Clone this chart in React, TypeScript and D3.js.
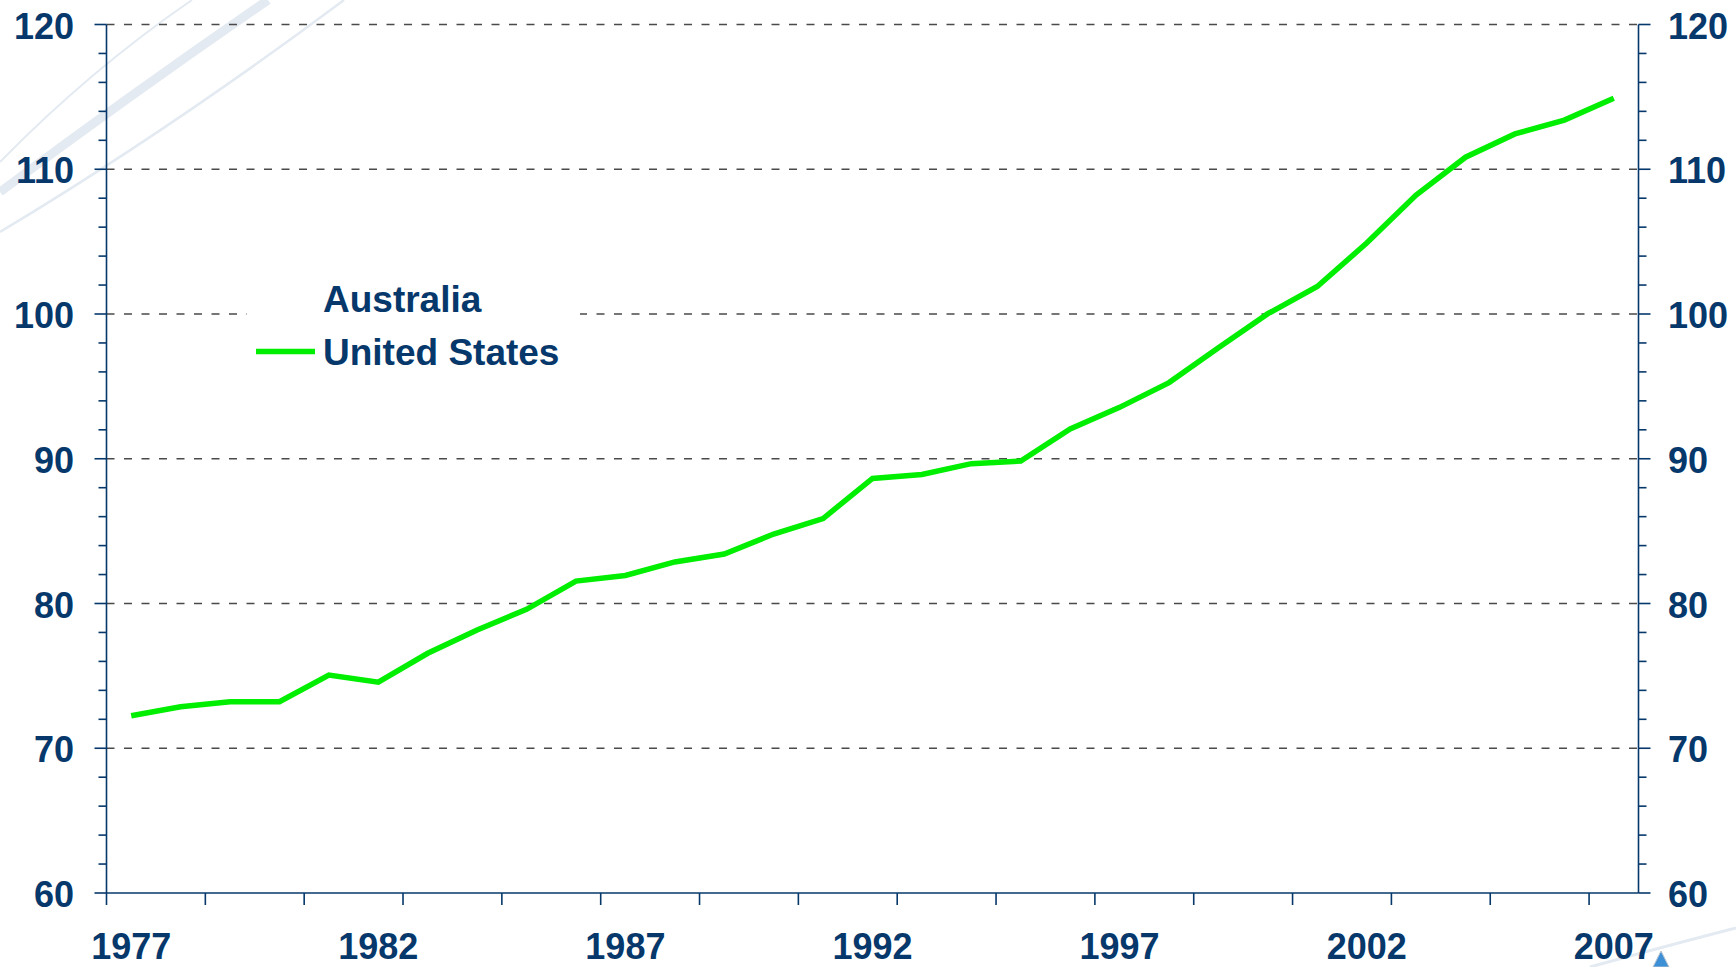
import React, { useEffect, useRef } from 'react';
import * as d3 from 'd3';

const years: string[] = [
  '1977', '1978', '1979', '1980', '1981', '1982', '1983', '1984', '1985', '1986',
  '1987', '1988', '1989', '1990', '1991', '1992', '1993', '1994', '1995', '1996',
  '1997', '1998', '1999', '2000', '2001', '2002', '2003', '2004', '2005', '2006', '2007',
];

// United States series (Australia appears in the legend only)
const unitedStates: number[] = [
  72.25, 72.87, 73.22, 73.22, 75.06, 74.56, 76.56, 78.17, 79.6, 81.55,
  81.94, 82.87, 83.42, 84.8, 85.87, 88.64, 88.91, 89.66, 89.84, 92.06,
  93.55, 95.26, 97.67, 100.02, 101.9, 104.9, 108.22, 110.83, 112.44, 113.4, 114.9,
];

const yMajorTicks: number[] = [60, 70, 80, 90, 100, 110, 120];
const xLabelYears: string[] = ['1977', '1982', '1987', '1992', '1997', '2002', '2007'];
const legendLabels: string[] = ['Australia', 'United States'];

const NAVY = '#06386b';
const GREEN = '#00ee00';
const FONT = '"Liberation Sans", Arial, sans-serif';

export default function App() {
  const ref = useRef<SVGSVGElement>(null);

  useEffect(() => {
    const width = 1736;
    const height = 967;
    const margin = { top: 24.5, bottom: 74, left: 106.5, right: 97.5 };

    const svg = d3.select(ref.current);
    svg.selectAll('*').remove();

    svg.append('rect').attr('width', width).attr('height', height).attr('fill', '#ffffff');

    // background swooshes
    const decor = svg.append('g').attr('fill', 'none').attr('stroke', '#e3eaf1');
    decor.append('path').attr('d', 'M0,162 Q90,70 192,0').attr('stroke-width', 2);
    decor.append('path').attr('d', 'M0,192 Q130,95 268,0').attr('stroke-width', 9);
    decor.append('path').attr('d', 'M0,232 Q170,130 344,0').attr('stroke-width', 2.5);
    decor.append('path').attr('d', 'M1590,967 Q1670,945 1736,928').attr('stroke-width', 3);

    const xScale = d3
      .scaleBand()
      .domain(years)
      .range([margin.left, width - margin.right])
      .padding(0);

    const yScale = d3
      .scaleLinear()
      .domain([60, 120])
      .range([height - margin.bottom, margin.top]);

    const x0 = margin.left;
    const x1 = width - margin.right;
    const yBottom = yScale(60);

    // gridlines
    svg
      .append('g')
      .selectAll('line')
      .data(yMajorTicks.filter((v) => v > 60))
      .enter()
      .append('line')
      .attr('x1', x0)
      .attr('x2', x1)
      .attr('y1', (d) => yScale(d))
      .attr('y2', (d) => yScale(d))
      .attr('stroke', '#4a4a4a')
      .attr('stroke-width', 1.5)
      .attr('stroke-dasharray', '8 9.5');

    // minor tick values every 2
    const minorTicks = d3.range(60, 121, 2).filter((v) => v % 10 !== 0);

    // axes
    const axes = svg.append('g').attr('stroke', NAVY).attr('stroke-width', 1.6);
    axes.append('line').attr('x1', x0).attr('x2', x0).attr('y1', yScale(120)).attr('y2', yBottom);
    axes.append('line').attr('x1', x1).attr('x2', x1).attr('y1', yScale(120)).attr('y2', yBottom);
    axes.append('line').attr('x1', x0).attr('x2', x1).attr('y1', yBottom).attr('y2', yBottom);

    axes
      .selectAll('line.lmaj')
      .data(yMajorTicks)
      .enter()
      .append('line')
      .attr('x1', x0 - 12)
      .attr('x2', x0)
      .attr('y1', (d) => yScale(d))
      .attr('y2', (d) => yScale(d));
    axes
      .selectAll('line.lmin')
      .data(minorTicks)
      .enter()
      .append('line')
      .attr('x1', x0 - 8)
      .attr('x2', x0)
      .attr('y1', (d) => yScale(d))
      .attr('y2', (d) => yScale(d));
    axes
      .selectAll('line.rmaj')
      .data(yMajorTicks)
      .enter()
      .append('line')
      .attr('x1', x1)
      .attr('x2', x1 + 12)
      .attr('y1', (d) => yScale(d))
      .attr('y2', (d) => yScale(d));
    axes
      .selectAll('line.rmin')
      .data(minorTicks)
      .enter()
      .append('line')
      .attr('x1', x1)
      .attr('x2', x1 + 8)
      .attr('y1', (d) => yScale(d))
      .attr('y2', (d) => yScale(d));

    // bottom ticks every two categories
    axes
      .selectAll('line.xt')
      .data(years.filter((_, i) => i % 2 === 0))
      .enter()
      .append('line')
      .attr('x1', (d) => xScale(d) as number)
      .attr('x2', (d) => xScale(d) as number)
      .attr('y1', yBottom)
      .attr('y2', yBottom + 12);

    const labelStyle = (sel: d3.Selection<SVGTextElement, any, any, any>) =>
      sel
        .attr('fill', NAVY)
        .attr('font-family', FONT)
        .attr('font-weight', 'bold')
        .attr('font-size', 36);

    // y labels, both sides
    svg
      .append('g')
      .selectAll('text')
      .data(yMajorTicks)
      .enter()
      .append('text')
      .attr('x', 74)
      .attr('y', (d) => yScale(d) + 14)
      .attr('text-anchor', 'end')
      .text((d) => d)
      .call(labelStyle);

    svg
      .append('g')
      .selectAll('text')
      .data(yMajorTicks)
      .enter()
      .append('text')
      .attr('x', 1668)
      .attr('y', (d) => yScale(d) + 14)
      .attr('text-anchor', 'start')
      .text((d) => d)
      .call(labelStyle);

    // x labels
    svg
      .append('g')
      .selectAll('text')
      .data(xLabelYears)
      .enter()
      .append('text')
      .attr('x', (d) => (xScale(d) as number) + xScale.bandwidth() / 2)
      .attr('y', 959)
      .attr('text-anchor', 'middle')
      .text((d) => d)
      .call(labelStyle);

    // line
    const line = d3
      .line<number>()
      .x((_, i) => (xScale(years[i]) as number) + xScale.bandwidth() / 2)
      .y((d) => yScale(d));

    svg
      .append('path')
      .datum(unitedStates)
      .attr('d', line)
      .attr('fill', 'none')
      .attr('stroke', GREEN)
      .attr('stroke-width', 5.5)
      .attr('stroke-linejoin', 'miter');

    // legend
    const legend = svg.append('g');
    legend
      .append('rect')
      .attr('x', 247)
      .attr('y', 280)
      .attr('width', 333)
      .attr('height', 96)
      .attr('fill', '#ffffff');
    legend
      .selectAll('text')
      .data(legendLabels)
      .enter()
      .append('text')
      .attr('x', 323)
      .attr('y', (_, i) => 311.5 + i * 53)
      .text((d) => d)
      .call(labelStyle)
      .attr('font-size', 37);
    legend
      .append('line')
      .attr('x1', 256)
      .attr('x2', 315)
      .attr('y1', 351.5)
      .attr('y2', 351.5)
      .attr('stroke', GREEN)
      .attr('stroke-width', 5.5);

    // small logo triangle, bottom right
    svg
      .append('path')
      .attr('d', 'M1653,967 L1661,951 L1669,967 Z')
      .attr('fill', '#3d8fd6')
      .attr('stroke', '#b8c4d0')
      .attr('stroke-width', 1);
  }, []);

  return (
    <svg
      ref={ref}
      width={1736}
      height={967}
      style={{ position: 'absolute', left: 0, top: 0, display: 'block' }}
    />
  );
}
